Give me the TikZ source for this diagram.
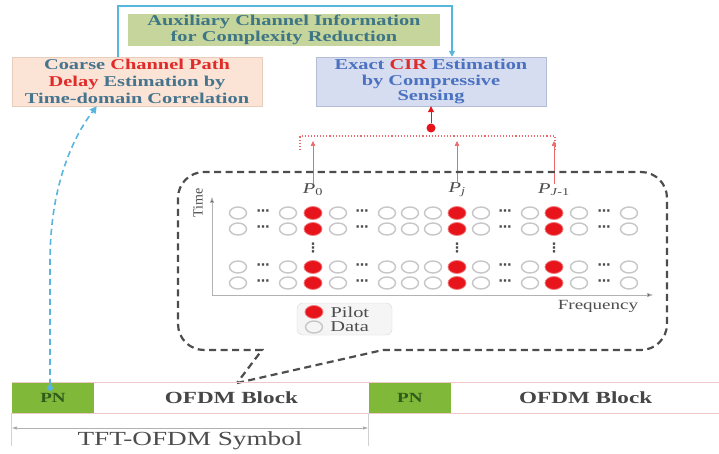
\documentclass[tikz,border=0pt]{standalone}
\usepackage{fontspec}
\setmainfont{Liberation Serif}[FakeStretch=1.36]
\newfontfamily\uprightserif{Liberation Serif}
\newfontfamily\dotfont{DejaVu Sans}
\usetikzlibrary{positioning,arrows.meta,shapes.geometric}
\definecolor{auxgreen}{HTML}{C5D59B}
\definecolor{auxtext}{HTML}{3E7686}
\definecolor{coarsefill}{HTML}{FBE4D5}
\definecolor{coarsedraw}{HTML}{E9CDBB}
\definecolor{coarsetext}{HTML}{46748E}
\definecolor{exactfill}{HTML}{D7DDF0}
\definecolor{exactdraw}{HTML}{B4BDD6}
\definecolor{cirblue}{HTML}{4A72C0}
\definecolor{cirred}{HTML}{E02B2B}
\definecolor{selred}{HTML}{E86A6A}
\definecolor{pilotred}{HTML}{E8141C}
\definecolor{feedcyan}{HTML}{58B6DE}
\definecolor{pngreen}{HTML}{80B83A}
\definecolor{pntext}{HTML}{2F5C1A}
\definecolor{barpink}{HTML}{EFC9C9}
\definecolor{gridgray}{HTML}{C6C6C6}
\definecolor{inkgray}{HTML}{4D4D4D}
\tikzset{
  every node/.style={inner sep=0pt},
  auxbox/.style={
    rectangle, fill=auxgreen,
    minimum width=312pt, minimum height=32pt,
    align=center, text=auxtext,
    font=\fontsize{15}{15.5}\selectfont\bfseries
  },
  coarsebox/.style={
    rectangle, draw=coarsedraw, fill=coarsefill,
    minimum width=250pt, minimum height=49pt,
    align=center, text=coarsetext,
    font=\fontsize{15}{17}\selectfont\bfseries
  },
  exactbox/.style={
    rectangle, draw=exactdraw, fill=exactfill,
    minimum width=230pt, minimum height=49pt,
    align=center, text=cirblue,
    font=\fontsize{15}{15.5}\selectfont\bfseries
  },
  feedback/.style={
    draw=feedcyan, line width=1.6pt,
    -{Triangle[length=6pt,width=6pt]}
  },
  pnlink/.style={
    draw=feedcyan, line width=1.6pt, dash pattern=on 6pt off 4pt,
    -{Triangle[length=7pt,width=7pt]}
  },
  pilot/.style={
    ellipse, fill=pilotred, draw=pilotred!55, line width=0.8pt,
    minimum width=18pt, minimum height=13pt
  },
  datum/.style={
    ellipse, draw=gridgray, line width=1.4pt,
    minimum width=17pt, minimum height=12pt
  },
  gap/.style={text=inkgray, font=\dotfont\fontsize{13}{13}\selectfont\bfseries},
  vgap/.style={text=inkgray, font=\dotfont\fontsize{13}{13}\selectfont\bfseries},
  plabel/.style={text=inkgray, font=\fontsize{15}{15}\selectfont},
  select/.style={
    draw=selred, line width=0.6pt,
    -{Triangle[length=5pt,width=4.5pt]}
  },
  bus/.style={draw=selred, line width=1.1pt, dotted},
  mixdot/.style={circle, fill=pilotred, minimum size=9pt},
  merge/.style={
    draw=pilotred, line width=1pt,
    -{Triangle[length=6pt,width=6pt]}
  },
  axis/.style={
    draw=gray!60, line width=0.8pt,
    -{Triangle[length=6pt,width=4pt,fill=inkgray]}
  },
  axislabel/.style={text=inkgray, font=\fontsize{14}{14}\selectfont},
  callout/.style={draw=inkgray, line width=2.2pt, dash pattern=on 7pt off 4.5pt},
  legendbox/.style={
    rectangle, rounded corners=6pt, draw=gray!30, fill=gray!8,
    minimum width=95pt, minimum height=32pt
  },
  legendtext/.style={text=inkgray, font=\fontsize{15}{15}\selectfont},
  pnblock/.style={
    rectangle, fill=pngreen, minimum width=82pt, minimum height=30pt,
    text=pntext, font=\fontsize{14}{14}\selectfont\bfseries
  },
  ofdmblock/.style={
    rectangle, minimum height=30pt,
    text=gray!55!black, font=\fontsize{17}{17}\selectfont\bfseries
  },
  barline/.style={draw=barpink, line width=1pt},
  span/.style={
    draw=gray!60, line width=0.8pt,
    {Triangle[length=5pt,width=3pt,fill=inkgray]}-{Triangle[length=5pt,width=3pt,fill=inkgray]}
  },
  tick/.style={draw=gray!35, line width=0.8pt},
}
\begin{document}
\begin{tikzpicture}[x=1pt, y=-1pt]
  \path[use as bounding box, fill=white] (0,0) rectangle (719,454);

  % estimation stages
  \node[auxbox] (aux) at (284,30) {Auxiliary Channel Information\\for Complexity Reduction};
  \node[coarsebox] (coarse) at (137,81.5) {Coarse \textcolor{cirred}{Channel Path}\\\textcolor{cirred}{Delay} Estimation by\\Time-domain Correlation};
  \node[exactbox] (exact) at (431,81.5) {Exact \textcolor{cirred}{CIR} Estimation\\by Compressive\\Sensing};
  \coordinate (fbL) at (118,6);
  \coordinate (fbR) at (452,6);
  \draw[feedback] (coarse.north -| fbL) -- (fbL) -- (fbR) -- (exact.north -| fbR);

  % pilot selection
  \node[mixdot] (mix) at (431,128) {};
  \draw[merge] (mix) -- (exact.south);
  \coordinate (busL) at (300,150);
  \coordinate (busR) at (555,150);
  \draw[bus] (busL) -- ++(0,-14) -| (busR);
  \foreach \x/\s [count=\c] in {313/{0},457/{\textit{j}},554/{\textit{J}-1}} {
    \node[plabel] (lbl\c) at (\x,190) {\textit{P}\textsubscript{\s}};
    \coordinate (tip\c) at (\x,141);
    \draw[select] (lbl\c.north) -- (tip\c);
  }

  % zoomed view of the OFDM block
  \draw[callout] (237,383) -- (383,350) [rounded corners=26pt] -- (667,350) -- (667,172)
    -- (178,172) -- (178,350) [sharp corners] -- (262,350) -- cycle;
  \coordinate (origin) at (212,295);
  \coordinate (taxis) at (212,197);
  \coordinate (faxis) at (653,295);
  \draw[axis] (origin) -- (taxis);
  \draw[axis] (origin) -- (faxis);
  \node[axislabel, rotate=90] (timelbl) at (198,203) {\uprightserif Time};
  \node[axislabel] (freqlbl) at (598,306) {Frequency};

  \foreach \y [count=\r] in {213,229,267,283} {
    \foreach \x [count=\c] in {238,288,338,387,410,433,481,530,579,629}
      \node[datum] (d\r-\c) at (\x,\y) {};
    \foreach \x [count=\c] in {313,457,554}
      \node[pilot] (p\r-\c) at (\x,\y) {};
    \foreach \x [count=\c] in {263,362,505,604}
      \node[gap] (h\r-\c) at (\x,\y) {⋯};
  }
  \foreach \x [count=\c] in {313,457,554}
    \node[vgap] (v\c) at (\x,248) {⋮};

  % legend
  \node[legendbox] (legend) at (344.5,319) {};
  \node[pilot] (keyp) at (314,312) {};
  \node[legendtext, right=7pt of keyp] (keyptext) {Pilot};
  \node[datum] (keyd) at (314,327) {};
  \node[legendtext, right=7pt of keyd] (keydtext) {Data};

  % frame structure
  \node[pnblock] (pn1) at (53,398) {PN};
  \node[ofdmblock, minimum width=274pt, right=0pt of pn1] (ofdm1) {OFDM Block};
  \node[pnblock, right=0pt of ofdm1] (pn2) {PN};
  \node[ofdmblock, minimum width=269pt, right=0pt of pn2] (ofdm2) {OFDM Block};
  \draw[barline] (pn1.north west) -- (ofdm2.north east);
  \draw[barline] (pn1.south west) -- (ofdm2.south east);
  \draw[tick] (pn1.south west) -- ++(0,33);
  \draw[tick] (pn2.south west) -- ++(0,33);
  \coordinate (symL) at (12,428);
  \coordinate (symR) at (368,428);
  \draw[span] (symL) -- (symR);
  \node[text=inkgray, font=\fontsize{20}{20}\selectfont] (symlabel) at (190,441) {TFT-OFDM Symbol};

  \node[circle, fill=feedcyan, minimum size=6pt] (tap) at (50,388) {};
  \draw[pnlink] (tap) -- (50,262) .. controls (50,175) and (80,128) .. ([xshift=85pt]coarse.south west);
\end{tikzpicture}
\end{document}
